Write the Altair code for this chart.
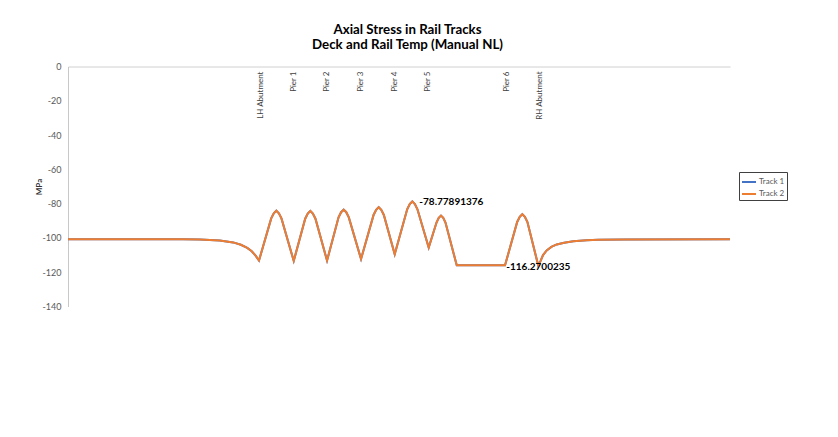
import altair as alt
import pandas as pd

# ---- data ----
distance = [0, 180, 206, 237, 258, 270, 280, 287, 293, 298.3,
            317.4, 321.4, 325.4, 329.4, 333.4, 352.6,
            370.5, 374.5, 378.5, 382.5, 386.5, 404.6,
            422.6, 426.6, 430.6, 434.6, 438.6, 457.7,
            477.3, 481.3, 485.3, 489.3, 493.3, 510.3,
            529.8, 533.8, 537.8, 541.8, 545.8, 563.4,
            575.6, 579.1, 582.6, 586.1, 589.6, 607.2, 682.6,
            701.6, 705.6, 709.6, 713.6, 717.6, 734.6,
            738, 742, 747.7, 755, 763.4, 775, 789.3, 810, 828.3, 870, 1034]
stress = [-100.8, -100.8, -100.9, -101.5, -102.6, -104.0, -105.8, -107.8, -110.3, -113.2,
          -88.6, -85.6, -84.1, -85.6, -88.6, -113.4,
          -88.8, -85.8, -84.3, -85.8, -88.8, -113.2,
          -88.0, -85.0, -83.5, -85.0, -88.0, -112.3,
          -86.6, -83.6, -82.1, -83.6, -86.6, -109.5,
          -83.3, -80.3, -78.77891376, -80.3, -83.3, -105.6,
          -91.0, -88.3, -87.0, -88.3, -91.0, -116.0, -116.0,
          -90.7, -87.7, -86.2, -87.7, -90.7, -116.2700235,
          -113.5, -110.0, -107.3, -105.2, -103.8, -102.8, -102.0, -101.4, -101.1, -100.9, -100.8]
tracks = ["Track 1", "Track 2"]
track_colors = ["#4472C4", "#ED7D31"]

pier_names = ["LH Abutment", "Pier 1", "Pier 2", "Pier 3", "Pier 4", "Pier 5", "Pier 6", "RH Abutment"]
pier_dist = [301, 353, 405, 458, 511, 563, 685, 737]

max_label = ["-78.77891376"]
max_dist = [537.8]
max_val = [-78.77891376]
min_label = ["-116.2700235"]
min_dist = [734.6]
min_val = [-116.2700235]

y_ticks = [0, -20, -40, -60, -80, -100, -120, -140]
title_lines = ["Axial Stress in Rail Tracks", "Deck and Rail Temp (Manual NL)"]

FONT = "Lato"

rows = []
for t in tracks:
    for d, s in zip(distance, stress):
        rows.append({"Distance": d, "Stress": s, "Track": t})
df = pd.DataFrame(rows)

xscale = alt.Scale(domain=[0, 1034], nice=False, zero=False)
yscale = alt.Scale(domain=[-140, 0], nice=False)

xaxis = alt.Axis(orient="top", labels=False, ticks=False, grid=False,
                 domainColor="#D0D0D0", domainWidth=1, title=None)
yaxis = alt.Axis(values=y_ticks, ticks=False, grid=False, domainColor="#C8C8C8",
                 labelColor="#595959", labelFontSize=9, labelFont=FONT, labelPadding=7,
                 labelOverlap=False, labelExpr="datum.value + ''",
                 title="MPa", titleFont=FONT, titleFontSize=8, titleFontWeight="bold",
                 titleColor="#333333", titleX=-29, titleY=120, titleAngle=270,
                 titleAlign="center", titleBaseline="middle")

lines = alt.Chart(df).mark_line(strokeWidth=2, interpolate="linear").encode(
    x=alt.X("Distance:Q", scale=xscale, axis=xaxis),
    y=alt.Y("Stress:Q", scale=yscale, axis=yaxis),
    color=alt.Color("Track:N",
                    scale=alt.Scale(domain=tracks, range=track_colors),
                    legend=alt.Legend(title=None, orient="none", legendX=671, legendY=105.5,
                                      symbolType="stroke", symbolSize=196, symbolStrokeWidth=2,
                                      strokeColor="#404040", padding=2, rowPadding=0,
                                      labelFont=FONT, labelFontSize=8, labelColor="#595959",
                                      labelOffset=2, fillColor="white")),
    order=alt.Order("Track:N"),
    detail="Track:N",
)

pier_df = pd.DataFrame({"name": pier_names, "Distance": pier_dist})
piers = alt.Chart(pier_df).mark_text(angle=270, align="right", baseline="middle",
                                     font=FONT, fontSize=8, color="#404040").encode(
    x=alt.X("Distance:Q", scale=xscale, axis=xaxis),
    y=alt.value(5),
    text="name:N",
)

max_df = pd.DataFrame({"label": max_label, "Distance": max_dist, "Stress": max_val})
max_text = alt.Chart(max_df).mark_text(align="left", baseline="middle", dx=7,
                                       font=FONT, fontSize=10, fontWeight="bold", color="#000000").encode(
    x=alt.X("Distance:Q", scale=xscale, axis=xaxis),
    y=alt.Y("Stress:Q", scale=yscale, axis=yaxis), text="label:N")

min_df = pd.DataFrame({"label": min_label, "Distance": min_dist, "Stress": min_val})
min_text = alt.Chart(min_df).mark_text(align="center", baseline="middle", dy=1,
                                       font=FONT, fontSize=10, fontWeight="bold", color="#000000").encode(
    x=alt.X("Distance:Q", scale=xscale, axis=xaxis),
    y=alt.Y("Stress:Q", scale=yscale, axis=yaxis), text="label:N")

chart = alt.layer(lines, piers, max_text, min_text).properties(
    width=662, height=240,
    title=alt.TitleParams(text=title_lines, font=FONT, fontSize=13.3, fontWeight="bold",
                          color="#000000", anchor="middle", dx=8.5, offset=11, lineHeight=15.5),
    padding={"left": 60, "top": 58.5, "right": 100, "bottom": 100},
    autosize="none",
    background="white",
).configure_view(stroke=None).configure_axis(labelOverlap=False)

chart.save("out.html", embed_options={"renderer": "svg", "actions": False})
